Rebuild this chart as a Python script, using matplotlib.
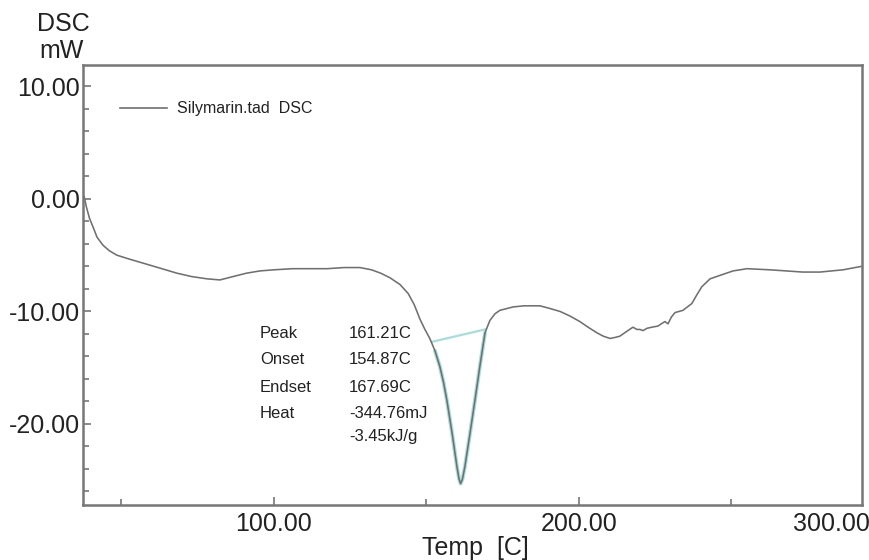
import matplotlib
matplotlib.use("Agg")
import matplotlib.pyplot as plt
from matplotlib.lines import Line2D
from matplotlib.ticker import MultipleLocator, FixedLocator

plt.rcParams['font.family'] = ['Liberation Sans', 'DejaVu Sans']

# DSC curve
temp = [37.8, 38.5, 39.5, 40.7, 42, 43.9, 46, 48.5, 52, 57, 62, 68.2, 73, 78, 82.3, 86.6, 91,
        95.4, 100, 106.2, 112, 117.4, 123, 128.2, 132, 135, 138, 141.3, 144, 146, 147.9, 149.5,
        151.1, 152.8, 154.4, 155.6, 156.7, 158.4, 160.0, 160.7, 161.2, 161.8, 162.6, 164.3,
        165.9, 167.5, 169.2, 170.8, 172.5, 174.1, 178.4, 182, 185, 187.2, 190, 193.8, 197,
        200.3, 203, 205.9, 208, 210.2, 212, 213.4, 215.5, 217.7, 219, 220, 221, 222.3, 223.9,
        225.9, 227, 228.2, 229.2, 230.3, 231.5, 234.1, 237, 238.7, 240.3, 243, 246.2, 250.5,
        255.1, 262.6, 268, 273.4, 279, 286.6, 292.5]
dsc = [0.2, -0.7, -1.7, -2.5, -3.4, -4.1, -4.6, -5.0, -5.3, -5.7, -6.1, -6.6, -6.9, -7.1, -7.2,
       -6.9, -6.6, -6.4, -6.3, -6.2, -6.2, -6.2, -6.1, -6.1, -6.3, -6.6, -7.0, -7.6, -8.4, -9.4,
       -10.7, -11.6, -12.4, -13.5, -14.9, -16.3, -17.9, -20.8, -23.8, -24.9, -25.3, -24.9,
       -23.8, -20.8, -17.9, -14.9, -11.9, -10.8, -10.2, -9.9, -9.6, -9.5, -9.5, -9.5, -9.7,
       -10.0, -10.4, -10.9, -11.4, -11.9, -12.2, -12.4, -12.3, -12.2, -11.8, -11.4, -11.6,
       -11.6, -11.7, -11.5, -11.4, -11.3, -11.1, -10.9, -11.1, -10.5, -10.1, -9.9, -9.3, -8.5,
       -7.8, -7.1, -6.8, -6.4, -6.2, -6.3, -6.4, -6.5, -6.5, -6.3, -6.0]

# peak baseline (teal)
base_t = [151.8, 169.2]
base_y = [-12.7, -11.6]

x_ticks = [100, 200]
x_ticklabels = ['100.00', '200.00']
y_ticks = [10, 0, -10, -20]
y_ticklabels = ['10.00', '0.00', '-10.00', '-20.00']

ann_labels = ['Peak', 'Onset', 'Endset', 'Heat', '']
ann_values = ['161.21C', '154.87C', '167.69C', '-344.76mJ', '-3.45kJ/g']

W, H = 870, 560
fig = plt.figure(figsize=(W / 100, H / 100), dpi=100)
ax = fig.add_axes([83 / W, 1 - 505 / H, (862 - 83) / W, (505 - 65) / H])

curve_c = '#707070'
teal = '#a6dedc'
txt_c = '#222222'

# teal overlay of peak region
pk = [(t, v) for t, v in zip(temp, dsc) if base_t[0] <= t <= base_t[1]]
ax.plot([p[0] for p in pk], [p[1] for p in pk], color=teal, lw=2.8, solid_capstyle='round')
ax.plot(base_t, base_y, color=teal, lw=1.6)
ax.plot(temp, dsc, color=curve_c, lw=1.15)

ax.set_xlim(37.4, 292.8)
ax.set_ylim(-27.2, 11.9)

ax.xaxis.set_major_locator(FixedLocator(x_ticks))
ax.set_xticklabels(x_ticklabels)
ax.xaxis.set_minor_locator(FixedLocator([50, 150, 250]))
ax.yaxis.set_major_locator(FixedLocator(y_ticks))
ax.set_yticklabels(y_ticklabels)
ax.yaxis.set_minor_locator(MultipleLocator(2))

for s in ax.spines.values():
    s.set_color('#777777')
    s.set_linewidth(1.8)

ax.tick_params(which='both', direction='in', colors='#777777', labelcolor=txt_c,
               labelsize=18, top=False, right=False)
ax.tick_params(which='major', length=6, width=1.2)
ax.tick_params(which='minor', length=4, width=1.2)
ax.tick_params(axis='y', pad=2)
ax.tick_params(axis='x', pad=5)

# 300.00 label at right edge
fig.text(793 / W, 1 - 512 / H, '300.00', ha='left', va='top', fontsize=18, color=txt_c)

# axis titles
fig.text(63 / W, 1 - 24 / H, 'DSC', ha='center', va='center', fontsize=18, color=txt_c)
fig.text(62 / W, 1 - 51 / H, 'mW', ha='center', va='center', fontsize=18, color=txt_c)
fig.text(475 / W, 1 - 548 / H, 'Temp  [C]', ha='center', va='center', fontsize=18, color=txt_c)

# legend
fig.add_artist(Line2D([120 / W, 167 / W], [1 - 108 / H, 1 - 108 / H], color=curve_c, lw=1.2))
fig.text(177 / W, 1 - 108 / H, 'Silymarin.tad  DSC', ha='left', va='center',
         fontsize=11.5, color=txt_c)

# annotation
ys = [333, 360, 387, 413, 437]
for lab, val, yy in zip(ann_labels, ann_values, ys):
    if lab:
        fig.text(260 / W, 1 - yy / H, lab, ha='left', va='center', fontsize=12, color=txt_c)
    fig.text(349 / W, 1 - yy / H, val, ha='left', va='center', fontsize=12, color=txt_c)

fig.savefig('out.png', dpi=100, facecolor='white')
